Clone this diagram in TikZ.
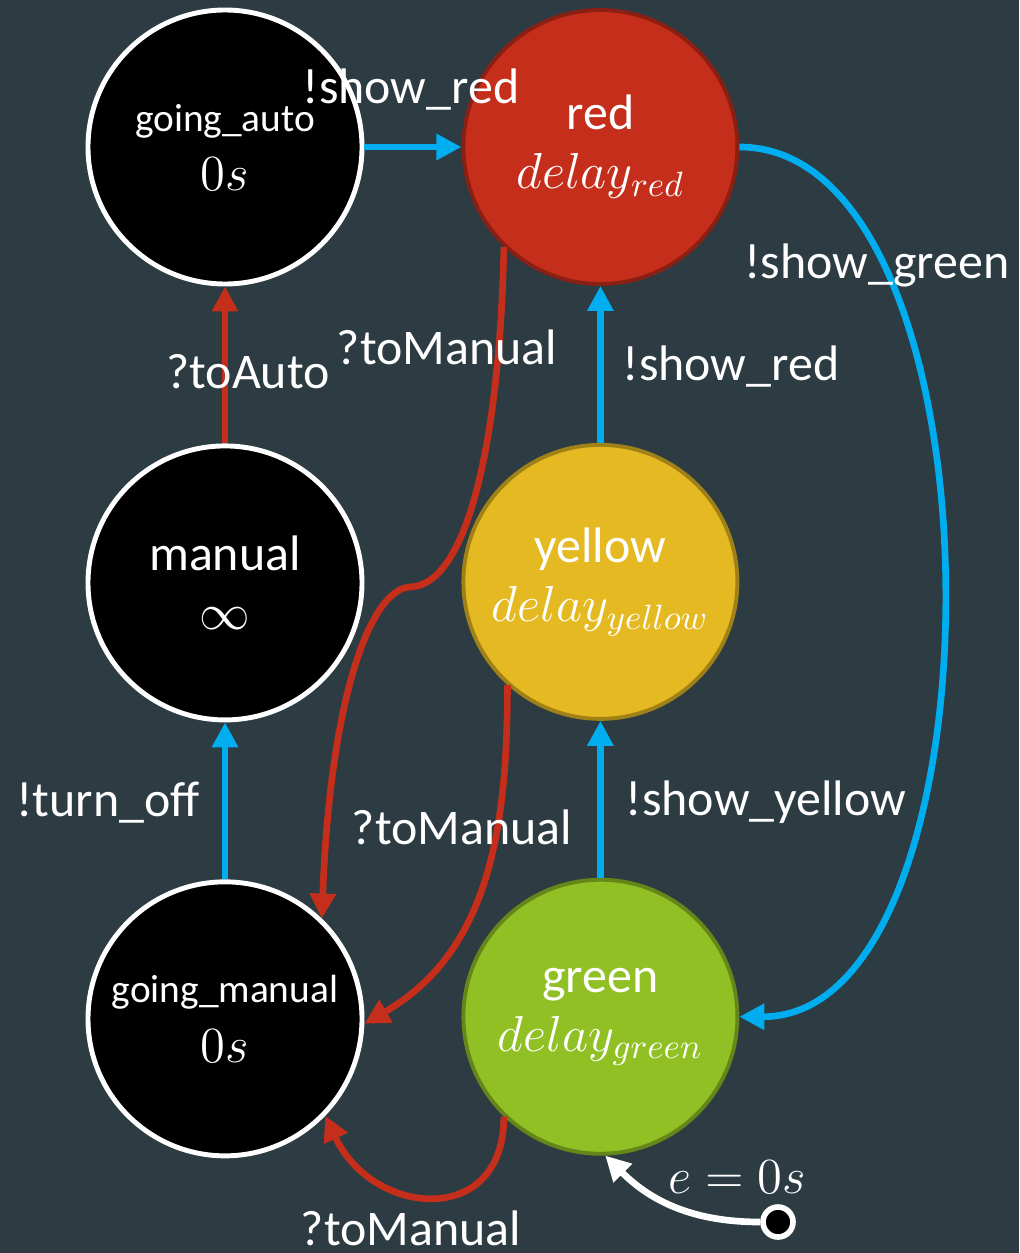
\documentclass[tikz,border=0pt]{standalone}
\usepackage{fontspec}
\setmainfont{Carlito}
\usetikzlibrary{arrows.meta,positioning}

\definecolor{slate}{HTML}{2D3B43}
\definecolor{sky}{HTML}{00AEEF}
\definecolor{lampred}{HTML}{C42E1B}
\definecolor{lampyellow}{HTML}{E4B921}
\definecolor{lampgreen}{HTML}{90C024}
\newcommand{\statesmall}{\fontsize{11.2}{13}\selectfont}

\begin{document}
\begin{tikzpicture}[
  node distance=15.7mm and 9.7mm,
  state/.style={circle, draw=white, line width=1.4pt, fill=black, minimum size=27.4mm, inner sep=0pt, align=center, text=white, font=\fontsize{14.2}{16.8}\selectfont},
  lamp/.style={state, fill=#1, draw=#1!70!black, line width=1.1pt},
  lbl/.style={text=white, inner sep=0pt, font=\fontsize{14.2}{16}\selectfont},
  bluearrow/.style={-{Triangle[length=2.5mm, width=2.5mm]}, line width=1.9pt, draw=sky},
  redarrow/.style={-{Triangle[length=2.5mm, width=2.5mm]}, line width=1.9pt, draw=lampred},
  initarrow/.style={-{Triangle[length=2.5mm, width=2.5mm]}, line width=1.9pt, draw=white},
  initdot/.style={circle, fill=black, draw=white, line width=1.6pt, minimum size=3mm, inner sep=0pt}
]
\fill[slate] (0,0) rectangle (10.19,-12.53);
\useasboundingbox (0,0) rectangle (10.19,-12.53);

% states
\node[state] (gauto) at (2.25,-1.47) {{\statesmall going\_auto}\\$0s$};
\node[lamp=lampred, right=of gauto] (red) {red\\$delay_{red}$};
\node[state, below=of gauto] (manual) {manual\\$\infty$};
\node[lamp=lampyellow, below=of red] (yellow) {yellow\\$delay_{yellow}$};
\node[state, below=of manual] (gmanual) {{\statesmall going\_manual}\\$0s$};
\node[lamp=lampgreen, below=of yellow] (green) {green\\$delay_{green}$};
\node[initdot] (init) at (7.78,-12.22) {};
\coordinate (bend) at (4.10,-5.87);

% light cycle
\draw[bluearrow] (gauto) -- (red);
\draw[bluearrow] (green) -- (yellow);
\draw[bluearrow] (yellow) -- (red);
\draw[bluearrow] (red.0) to[out=0, in=0, looseness=0.8] (green.0);
\draw[bluearrow] (gmanual) -- (manual);
\draw[redarrow] (manual) -- (gauto);

% to manual
\draw[redarrow] (red.226) .. controls (5.00,-4.30) and (4.70,-5.85) .. (bend)
  .. controls (3.70,-5.89) and (3.30,-7.00) .. (gmanual.46);
\draw[redarrow] (yellow.228) to[out=-90, in=30] (gmanual.-2);
\draw[redarrow] (green.226) to[out=-90, in=-65, looseness=1.6] (gmanual.-44);
\draw[initarrow] (init) to[out=180, in=-45] (green.-88);

% labels
\node[lbl] (l1) at (4.11,-0.90) {!show\_red};
\node[lbl] (l2) at (8.77,-2.65) {!show\_green};
\node[lbl] (l3) at (4.47,-3.47) {?toManual};
\node[lbl] (l4) at (7.31,-3.67) {!show\_red};
\node[lbl] (l5) at (2.48,-3.72) {?toAuto};
\node[lbl] (l6) at (1.08,-8.03) {!turn\_off};
\node[lbl] (l7) at (4.62,-8.27) {?toManual};
\node[lbl] (l8) at (7.66,-8.02) {!show\_yellow};
\node[lbl] (l9) at (4.11,-12.28) {?toManual};
\node[lbl] (l10) at (7.37,-11.77) {$e = 0s$};
\end{tikzpicture}
\end{document}
